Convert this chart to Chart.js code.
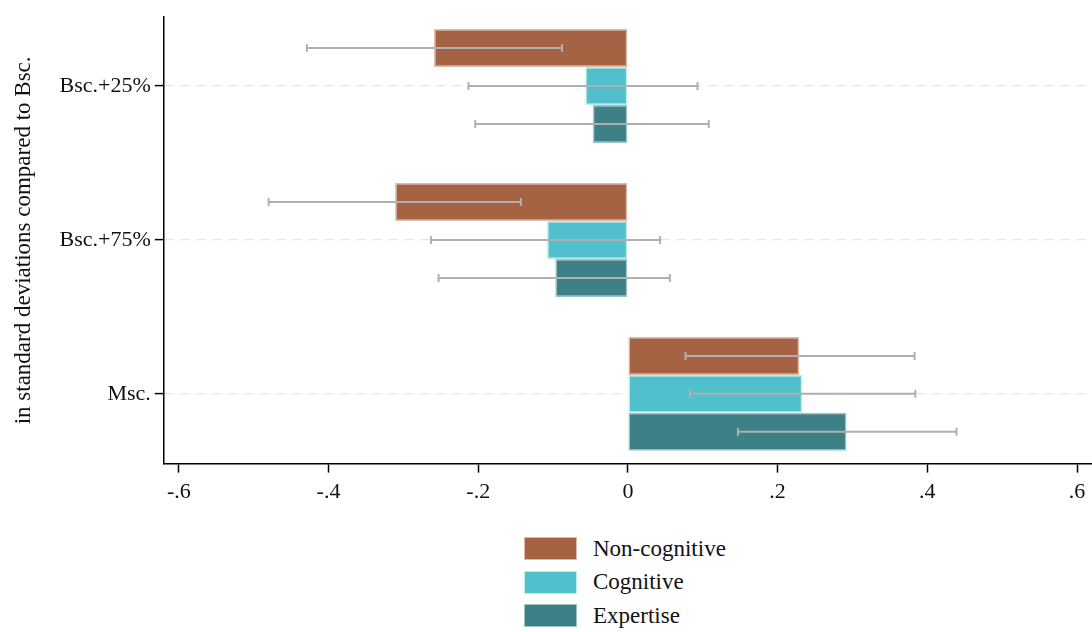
<!DOCTYPE html>
<html>
<head>
<meta charset="utf-8">
<script src="https://cdn.jsdelivr.net/npm/chart.js@4/dist/chart.umd.min.js"></script>
<style>
    html, body { margin: 0; padding: 0; background: #fff; }
    #wrap { position: relative; width: 1092px; height: 632px; }
    #chartBox { position: absolute; left: 0; top: 0; width: 1092px; height: 517px; }
    #legend { position: absolute; left: 524px; top: 532px; font-family: "Liberation Serif", serif; font-size: 23px; color: #111; }
    #legend .row { display: flex; align-items: center; height: 33.5px; }
    #legend .box { width: 53px; height: 23px; margin-right: 16px; box-sizing: border-box; border: 1.5px solid; }
</style>
</head>
<body>
<div id="wrap">
    <div id="chartBox"><canvas id="mainChart"></canvas></div>
    <div id="legend"></div>
</div>
<script>
/*
    data
*/
var categories = ['Bsc.+25%', 'Bsc.+75%', 'Msc.'];
var seriesNames = ['Non-cognitive', 'Cognitive', 'Expertise'];

var nonCognitive   = [-0.259, -0.311, 0.229];
var nonCognitiveLo = [-0.429, -0.480, 0.077];
var nonCognitiveHi = [-0.088, -0.143, 0.383];

var cognitive   = [-0.057, -0.108, 0.233];
var cognitiveLo = [-0.213, -0.263, 0.083];
var cognitiveHi = [0.093, 0.043, 0.384];

var expertise   = [-0.047, -0.097, 0.292];
var expertiseLo = [-0.204, -0.253, 0.147];
var expertiseHi = [0.108, 0.056, 0.439];

var xTicks = [-0.6, -0.4, -0.2, 0, 0.2, 0.4, 0.6];

var fillColors = ['#a66343', '#50c1cc', '#3d8187'];
var edgeColors = ['#dcb9a8', '#bfeaee', '#9cc3c6'];

// bars are placed on a numeric index axis (0,1,2 = categories)
function toPoints(values){
    return values.map(function(v, i){ return { x: v, y: i }; });
}

/*
    error bars plugin
*/
var errorBars = {
    id: 'errorBars',
    afterDatasetsDraw: function(chart){
        var ctx = chart.ctx;
        var xs = chart.scales.x;
        ctx.save();
        ctx.strokeStyle = '#b0b0b0';
        ctx.lineWidth = 2;
        chart.data.datasets.forEach(function(ds, i){
            var meta = chart.getDatasetMeta(i);
            meta.data.forEach(function(bar, j){
                var y = bar.y;
                var x1 = xs.getPixelForValue(ds.lo[j]);
                var x2 = xs.getPixelForValue(ds.hi[j]);
                ctx.beginPath();
                ctx.moveTo(x1, y); ctx.lineTo(x2, y);
                ctx.moveTo(x1, y - 4); ctx.lineTo(x1, y + 4);
                ctx.moveTo(x2, y - 4); ctx.lineTo(x2, y + 4);
                ctx.stroke();
            });
        });
        ctx.restore();
    }
};

function fmtTick(v){
    if (Math.abs(v) < 1e-9) return '0';
    var s = Math.abs(v).toFixed(1).replace(/^0/, '');
    return (v < 0 ? '-' : '') + s;
}

function drawChart(){
    var ctx = document.getElementById('mainChart');
    var fontFamily = '"Liberation Serif", serif';

    var config = {
        type: 'bar',
        data: {
            datasets: [
                { label: seriesNames[0], data: toPoints(nonCognitive), lo: nonCognitiveLo, hi: nonCognitiveHi,
                  backgroundColor: fillColors[0], borderColor: edgeColors[0] },
                { label: seriesNames[1], data: toPoints(cognitive), lo: cognitiveLo, hi: cognitiveHi,
                  backgroundColor: fillColors[1], borderColor: edgeColors[1] },
                { label: seriesNames[2], data: toPoints(expertise), lo: expertiseLo, hi: expertiseHi,
                  backgroundColor: fillColors[2], borderColor: edgeColors[2] },
            ]
        },
        options: {
            indexAxis: 'y',
            responsive: true,
            maintainAspectRatio: false,
            animation: false,
            borderSkipped: false,
            datasets: {
                bar: {
                    borderWidth: 1.5,
                    categoryPercentage: 0.74,
                    barPercentage: 1.0,
                }
            },
            layout: {
                padding: { top: 0, bottom: 6, left: 8, right: 0 }
            },
            plugins: {
                legend: { display: false },
                tooltip: { enabled: false }
            },
            scales: {
                x: {
                    type: 'linear',
                    min: -0.62,
                    max: 0.62,
                    afterBuildTicks: function(scale){
                        scale.ticks = xTicks.map(function(v){ return { value: v }; });
                    },
                    border: { color: '#000', width: 1.5 },
                    grid: {
                        drawOnChartArea: false,
                        drawTicks: true,
                        tickLength: 9,
                        tickColor: '#000',
                        tickWidth: 1.5
                    },
                    ticks: {
                        color: '#111',
                        padding: 6,
                        maxRotation: 0,
                        font: { family: fontFamily, size: 22 },
                        callback: function(v){ return fmtTick(v); }
                    }
                },
                y: {
                    type: 'linear',
                    reverse: true,
                    offset: false,
                    min: -0.447,
                    max: 2.453,
                    afterBuildTicks: function(scale){
                        scale.ticks = categories.map(function(c, i){ return { value: i }; });
                    },
                    border: { color: '#000', width: 1.5, dash: [9, 7] },
                    grid: {
                        offset: false,
                        color: '#e6e6e6',
                        lineWidth: 1.2,
                        drawTicks: true,
                        tickLength: 9,
                        tickColor: '#000',
                        tickWidth: 1.5,
                        tickBorderDash: []
                    },
                    ticks: {
                        color: '#111',
                        padding: 4,
                        font: { family: fontFamily, size: 22 },
                        callback: function(v){ return categories[v]; }
                    },
                    title: {
                        display: true,
                        text: 'in standard deviations compared to Bsc.',
                        color: '#111',
                        padding: { top: 2, bottom: 18 },
                        font: { family: fontFamily, size: 23 }
                    }
                }
            }
        },
        plugins: [errorBars]
    };
    new Chart(ctx, config);
}

function drawLegend(){
    var el = document.getElementById('legend');
    seriesNames.forEach(function(name, i){
        var row = document.createElement('div');
        row.className = 'row';
        var box = document.createElement('span');
        box.className = 'box';
        box.style.background = fillColors[i];
        box.style.borderColor = edgeColors[i];
        var txt = document.createElement('span');
        txt.textContent = name;
        row.appendChild(box);
        row.appendChild(txt);
        el.appendChild(row);
    });
}

drawChart();
drawLegend();
</script>
</body>
</html>
